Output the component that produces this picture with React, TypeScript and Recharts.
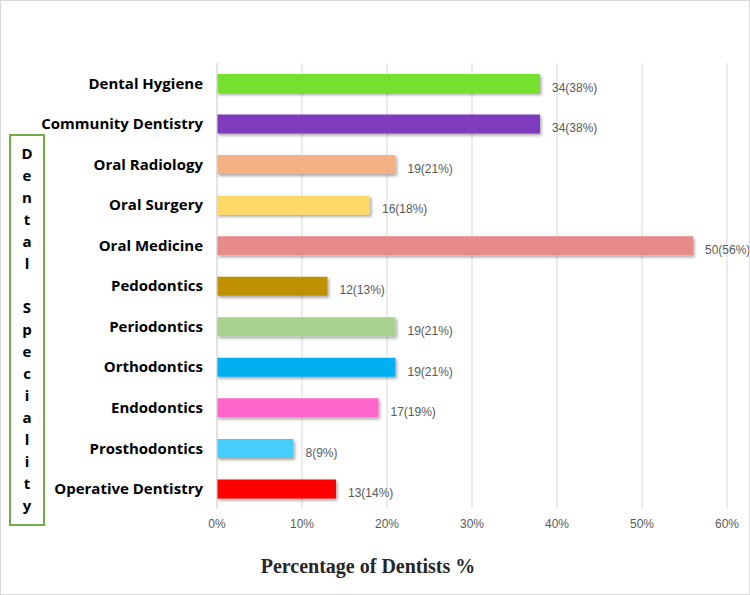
import React from 'react';
import { BarChart, Bar, XAxis, YAxis, CartesianGrid, Cell, LabelList } from 'recharts';

const categories = [
  'Dental Hygiene',
  'Community Dentistry',
  'Oral Radiology',
  'Oral Surgery',
  'Oral Medicine',
  'Pedodontics',
  'Periodontics',
  'Orthodontics',
  'Endodontics',
  'Prosthodontics',
  'Operative Dentistry',
];
const counts = [34, 34, 19, 16, 50, 12, 19, 19, 17, 8, 13];
const percents = [38, 38, 21, 18, 56, 13, 21, 21, 19, 9, 14];
const colors = ['#75e02f', '#7f3abd', '#f4b183', '#ffd966', '#e68a8a', '#bf9000', '#a9d18e', '#00b0f0', '#ff66cc', '#47cdfb', '#ff0000'];
const xTicks = [0, 10, 20, 30, 40, 50, 60];
const yTitle = 'Dental Speciality';
const xTitle = 'Percentage of Dentists %';

const data = categories.map((c, i) => ({
  name: c,
  value: percents[i],
  label: `${counts[i]}(${percents[i]}%)`,
}));

const BarLabel = (props: any) => {
  const { x, y, width, height, value } = props;
  return (
    <text x={x + width + 12} y={y + height / 2 + 4} dy="0.35em" fontSize={12} fill="#595959" fontFamily="Liberation Sans, Arial, sans-serif">
      {value}
    </text>
  );
};

export default function App() {
  const letters = yTitle.split('');
  return (
    <div style={{ position: 'absolute', left: 0, top: 0, width: 750, height: 595, background: '#fff', boxSizing: 'border-box', border: '1px solid #d9d9d9', overflow: 'hidden' }}>
      <div style={{ position: 'absolute', left: -1, top: -1 }}>
        <BarChart width={750} height={595} data={data} layout="vertical" margin={{ top: 63, right: 23, left: 0, bottom: 56 }}>
          <defs>
            <filter id="barShadow" x="-10%" y="-30%" width="130%" height="180%">
              <feDropShadow dx="1.5" dy="2" stdDeviation="1.5" floodColor="#000" floodOpacity="0.35" />
            </filter>
          </defs>
          <CartesianGrid horizontal={false} stroke="#d9d9d9" />
          <XAxis
            type="number"
            domain={[0, 60]}
            ticks={xTicks}
            tickFormatter={(v: number) => `${v}%`}
            axisLine={false}
            tickLine={false}
            tickMargin={4}
            height={30}
            tick={{ fontSize: 12, fill: '#595959', fontFamily: 'Liberation Sans, Arial, sans-serif' }}
          />
          <YAxis
            type="category"
            dataKey="name"
            width={217}
            axisLine={{ stroke: '#d9d9d9' }}
            tickLine={false}
            tickMargin={8}
            interval={0}
            tick={{ fontSize: 15, fill: '#000', fontWeight: 'bold', fontFamily: 'Open Sans, Liberation Sans, sans-serif' }}
          />
          <Bar dataKey="value" barSize={19} isAnimationActive={false}>
            {data.map((d, i) => (
              <Cell key={d.name} fill={colors[i]} filter="url(#barShadow)" />
            ))}
            <LabelList dataKey="label" content={BarLabel} />
          </Bar>
        </BarChart>
      </div>
      <div style={{ position: 'absolute', left: 8, top: 133, width: 32, height: 388, border: '2px solid #70ad47', boxSizing: 'content-box' }}>
        {letters.map((ch, i) => (
          <div key={i} style={{ position: 'absolute', left: 0, width: 32, top: 6 + i * 22, height: 22, lineHeight: '22px', textAlign: 'center', fontSize: 15, fontWeight: 'bold', fontFamily: 'Open Sans, Liberation Sans, sans-serif', color: '#000' }}>
            {ch === ' ' ? '\u00a0' : ch}
          </div>
        ))}
      </div>
      <div style={{ position: 'absolute', left: 0, width: 734, top: 554, textAlign: 'center', fontSize: 20, fontWeight: 'bold', fontFamily: 'Liberation Serif, Times New Roman, serif', color: '#262626' }}>
        {xTitle}
      </div>
    </div>
  );
}
